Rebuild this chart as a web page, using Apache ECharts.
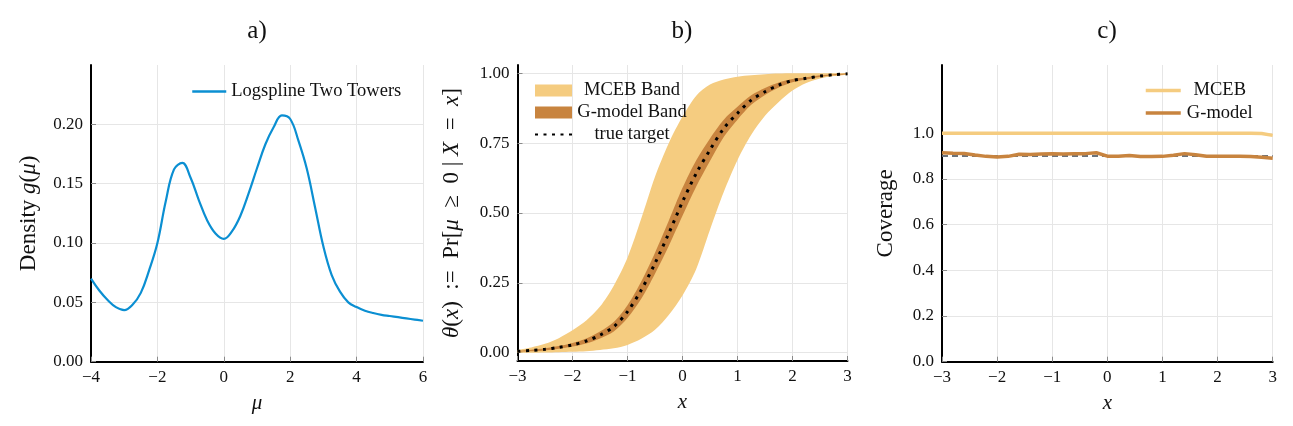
<!DOCTYPE html>
<html>
<head>
<meta charset="utf-8">
<title>Two towers</title>
<script src="https://cdn.jsdelivr.net/npm/echarts@6.0.0/dist/echarts.min.js"></script>
<style>
html, body { margin: 0; padding: 0; background: #fff; }
#chart { width: 1293px; height: 426px; }
</style>
</head>
<body>
<div id="chart"></div>
<script>
// a) logspline density
const muGrid = [-4, -3.75, -3.5, -3.25, -3, -2.75, -2.5, -2.25, -2, -1.75, -1.5, -1.25, -1, -0.75, -0.5, -0.25,
  0, 0.25, 0.5, 0.75, 1, 1.25, 1.5, 1.75, 2, 2.25, 2.5, 2.75, 3, 3.25, 3.5, 3.75, 4, 4.25, 4.5, 4.75, 5, 5.25, 5.5, 5.75, 6]
const density = [0.070, 0.060, 0.052, 0.046, 0.0435, 0.048, 0.058, 0.077, 0.100, 0.135, 0.162, 0.1675, 0.155, 0.136, 0.119, 0.108,
  0.1035, 0.110, 0.123, 0.142, 0.163, 0.183, 0.1975, 0.2075, 0.2045, 0.186, 0.1625, 0.130, 0.097, 0.073, 0.059, 0.050,
  0.046, 0.043, 0.041, 0.0395, 0.0385, 0.0375, 0.0365, 0.0355, 0.0345]

// b) posterior probability bands
const xGridB = [-3, -2.75, -2.5, -2.25, -2, -1.75, -1.5, -1.25, -1, -0.75, -0.5, -0.25, 0,
  0.25, 0.5, 0.75, 1, 1.25, 1.5, 1.75, 2, 2.25, 2.5, 2.75, 3]
const mcebLower = [0.0, 0.0, 0.001, 0.002, 0.003, 0.005, 0.010, 0.016, 0.028, 0.050, 0.082, 0.135, 0.205,
  0.300, 0.440, 0.575, 0.690, 0.780, 0.848, 0.897, 0.938, 0.965, 0.981, 0.990, 0.995]
const mcebUpper = [0.010, 0.019, 0.032, 0.052, 0.080, 0.115, 0.165, 0.240, 0.340, 0.480, 0.630, 0.750, 0.845,
  0.920, 0.960, 0.978, 0.988, 0.993, 0.997, 0.999, 1.0, 1.0, 1.0, 1.0, 1.0]
const gLower = [0.003, 0.005, 0.008, 0.014, 0.022, 0.033, 0.051, 0.076, 0.124, 0.193, 0.283, 0.382, 0.490,
  0.595, 0.686, 0.772, 0.834, 0.887, 0.922, 0.949, 0.968, 0.978, 0.987, 0.993, 0.997]
const gUpper = [0.007, 0.011, 0.016, 0.024, 0.035, 0.051, 0.076, 0.110, 0.170, 0.255, 0.358, 0.472, 0.590,
  0.689, 0.767, 0.834, 0.880, 0.921, 0.947, 0.967, 0.980, 0.986, 0.993, 0.997, 0.999]
const trueTarget = [0.005, 0.008, 0.012, 0.019, 0.028, 0.042, 0.063, 0.093, 0.147, 0.224, 0.320, 0.427, 0.540,
  0.642, 0.726, 0.803, 0.857, 0.904, 0.934, 0.958, 0.974, 0.982, 0.990, 0.995, 0.998]

// c) coverage
const xGridC = [-3, -2.8, -2.6, -2.4, -2.2, -2, -1.8, -1.6, -1.4, -1.2, -1, -0.8, -0.6, -0.4, -0.2, 0,
  0.2, 0.4, 0.6, 0.8, 1, 1.2, 1.4, 1.6, 1.8, 2, 2.2, 2.4, 2.6, 2.8, 3]
const coverageMceb = [1, 1, 1, 1, 1, 1, 1, 1, 1, 1, 1, 1, 1, 1, 1, 1,
  1, 1, 1, 1, 1, 1, 1, 1, 1, 1, 1, 1, 1, 0.999, 0.991]
const coverageGmodel = [0.915, 0.913, 0.912, 0.905, 0.899, 0.896, 0.899, 0.908, 0.907, 0.909, 0.910, 0.909, 0.910, 0.911, 0.915, 0.900,
  0.900, 0.903, 0.898, 0.898, 0.899, 0.904, 0.911, 0.906, 0.900, 0.900, 0.900, 0.900, 0.898, 0.895, 0.891]
const nominalLevel = 0.9

const FONT = 'Liberation Serif'
const BLUE = '#0b8fd2'
const LIGHT = '#f5cc80'
const DARK = '#c8843f'

function pairs(xs, ys) {
  return xs.map((x, i) => [x, ys[i]])
}
function minus(v) {
  return v < 0 ? '\u2212' + Math.abs(v) : String(v)
}

const axisLineOn = { show: true, onZero: false, lineStyle: { color: '#000', width: 2 } }
const axisLineOff = { show: false, onZero: false }
const tickIn = { show: true, inside: true, length: 5, lineStyle: { color: '#8a8a8a', width: 1 } }
const gridLine = { show: true, lineStyle: { color: '#e6e6e6', width: 1 } }
const labelStyle = { color: '#111', fontFamily: FONT, fontSize: 17 }
const legendText = { color: '#111', fontFamily: FONT, fontSize: 18.5 }
const nameStyle = {
  color: '#111', fontFamily: FONT, fontSize: 23,
  rich: { i: { fontStyle: 'italic', fontFamily: FONT, fontSize: 23, color: '#111' } }
}
const xNameStyle = {
  color: '#111', fontFamily: FONT, fontSize: 21,
  rich: { i: { fontStyle: 'italic', fontFamily: FONT, fontSize: 21, color: '#111' } }
}

function xAxisFull(grid, min, max, interval, name) {
  return {
    type: 'value', gridIndex: grid, min: min, max: max, interval: interval,
    axisLine: axisLineOn, axisTick: tickIn, splitLine: gridLine,
    axisLabel: { ...labelStyle, margin: 7, formatter: minus },
    name: name, nameLocation: 'middle', nameGap: 31, nameTextStyle: xNameStyle
  }
}

const chart = echarts.init(document.getElementById('chart'))

const options = {
  animation: false,
  graphic: ['a)', 'b)', 'c)'].map((t, i) => ({
    type: 'text', x: [257, 682, 1107][i], y: 31,
    style: { text: t, font: '25px "Liberation Serif"', fill: '#111', align: 'center', verticalAlign: 'middle' }
  })),
  grid: [
    { left: 91, top: 65, width: 332, height: 296.7 },
    { left: 517.5, top: 65, width: 330, height: 296 },
    { left: 517.5, top: 73.3, width: 330, height: 279.4 },
    { left: 942, top: 65, width: 330.7, height: 296.7 },
    { left: 942, top: 133.3, width: 330.7, height: 228.4 }
  ],
  xAxis: [
    xAxisFull(0, -4, 6, 2, '{i|μ}'),
    xAxisFull(1, -3, 3, 1, '{i|x}'),
    { type: 'category', gridIndex: 2, data: xGridB.map(String), boundaryGap: false, show: false },
    xAxisFull(3, -3, 3, 1, '{i|x}'),
    { type: 'value', gridIndex: 4, min: -3, max: 3, show: false }
  ],
  yAxis: [
    {
      type: 'value', gridIndex: 0, min: 0, max: 0.25, interval: 0.05,
      axisLine: axisLineOn, axisTick: tickIn,
      splitLine: { ...gridLine, showMaxLine: false },
      axisLabel: { ...labelStyle, showMaxLabel: false, formatter: v => v.toFixed(2) },
      name: 'Density {i|g}({i|μ})', nameLocation: 'middle', nameGap: 51, nameTextStyle: nameStyle
    },
    {
      type: 'value', gridIndex: 1, min: 0, max: 1,
      axisLine: axisLineOn, axisTick: { show: false }, axisLabel: { show: false }, splitLine: { show: false },
      name: '{i|θ}({i|x})  :=  Pr[{i|μ}  ≥  0 | {i|X}  =  {i|x}]', nameLocation: 'middle', nameGap: 54, nameTextStyle: nameStyle
    },
    {
      type: 'value', gridIndex: 2, min: 0, max: 1, interval: 0.25,
      axisLine: axisLineOff, axisTick: tickIn, splitLine: gridLine,
      axisLabel: { ...labelStyle, formatter: v => v.toFixed(2) }
    },
    {
      type: 'value', gridIndex: 3, min: 0, max: 1.3,
      axisLine: axisLineOn, axisTick: { show: false }, axisLabel: { show: false }, splitLine: { show: false },
      name: 'Coverage', nameLocation: 'middle', nameGap: 45, nameTextStyle: nameStyle
    },
    {
      type: 'value', gridIndex: 4, min: 0, max: 1, interval: 0.2,
      axisLine: axisLineOff, axisTick: tickIn, splitLine: gridLine,
      axisLabel: { ...labelStyle, formatter: v => v.toFixed(1) }
    }
  ],
  legend: [
    {
      data: ['Logspline Two Towers'], left: 191, top: 82, padding: 0,
      itemWidth: 34, itemHeight: 14, itemStyle: { opacity: 0 }, lineStyle: { width: 2.5 },
      textStyle: { ...legendText }
    },
    {
      data: [
        { name: 'MCEB Band', icon: 'rect', itemStyle: { color: LIGHT, opacity: 1 } },
        { name: 'G-model Band', icon: 'rect', itemStyle: { color: DARK, opacity: 1 } },
        { name: 'true target' }
      ],
      orient: 'vertical', left: 534, top: 81, padding: 0, itemGap: 3,
      itemWidth: 37, itemHeight: 12, itemStyle: { opacity: 0 },
      formatter: name => '{c|' + name + '}',
      textStyle: { ...legendText, rich: { c: { ...legendText, width: 110, align: 'center' } } }
    },
    {
      data: ['MCEB', 'G-model'],
      orient: 'vertical', left: 1144, top: 81, padding: 0, itemGap: 3.4,
      itemWidth: 35, itemHeight: 14, itemStyle: { opacity: 0 }, lineStyle: { width: 3.5 },
      formatter: name => '{c|' + name + '}',
      textStyle: { ...legendText, rich: { c: { ...legendText, width: 68, align: 'center' } } }
    }
  ],
  series: [
    {
      name: 'Logspline Two Towers', type: 'line', xAxisIndex: 0, yAxisIndex: 0,
      data: pairs(muGrid, density), smooth: 0.4, symbol: 'none',
      itemStyle: { color: BLUE }, lineStyle: { color: BLUE, width: 2.2 }
    },
    {
      name: 'mceb-lo', type: 'line', xAxisIndex: 2, yAxisIndex: 2, stack: 'mceb',
      data: mcebLower, smooth: 0.3, symbol: 'none', silent: true,
      lineStyle: { opacity: 0 }
    },
    {
      name: 'MCEB Band', type: 'line', xAxisIndex: 2, yAxisIndex: 2, stack: 'mceb',
      data: mcebUpper.map((u, i) => u - mcebLower[i]), smooth: 0.3, symbol: 'none',
      itemStyle: { color: LIGHT }, lineStyle: { opacity: 0 }, areaStyle: { color: LIGHT, opacity: 1 }
    },
    {
      name: 'g-lo', type: 'line', xAxisIndex: 2, yAxisIndex: 2, stack: 'g',
      data: gLower, smooth: 0.3, symbol: 'none', silent: true,
      lineStyle: { opacity: 0 }
    },
    {
      name: 'G-model Band', type: 'line', xAxisIndex: 2, yAxisIndex: 2, stack: 'g',
      data: gUpper.map((u, i) => u - gLower[i]), smooth: 0.3, symbol: 'none',
      itemStyle: { color: DARK }, lineStyle: { opacity: 0 }, areaStyle: { color: DARK, opacity: 1 }
    },
    {
      name: 'true target', type: 'line', xAxisIndex: 2, yAxisIndex: 2,
      data: trueTarget, smooth: 0.3, symbol: 'none',
      itemStyle: { color: '#000' }, lineStyle: { color: '#000', width: 3, type: [3, 5.5] }
    },
    {
      name: 'MCEB', type: 'line', xAxisIndex: 4, yAxisIndex: 4, clip: false,
      data: pairs(xGridC, coverageMceb), symbol: 'none',
      itemStyle: { color: LIGHT }, lineStyle: { color: LIGHT, width: 3.5 }
    },
    {
      name: 'G-model', type: 'line', xAxisIndex: 4, yAxisIndex: 4,
      data: pairs(xGridC, coverageGmodel), symbol: 'none',
      itemStyle: { color: DARK }, lineStyle: { color: DARK, width: 3.5 },
      markLine: {
        silent: true, symbol: 'none', z: 1, label: { show: false },
        lineStyle: { color: '#6b737c', width: 2, type: [6, 4] },
        data: [{ yAxis: nominalLevel }]
      }
    }
  ]
}

chart.setOption(options)
</script>
</body>
</html>
